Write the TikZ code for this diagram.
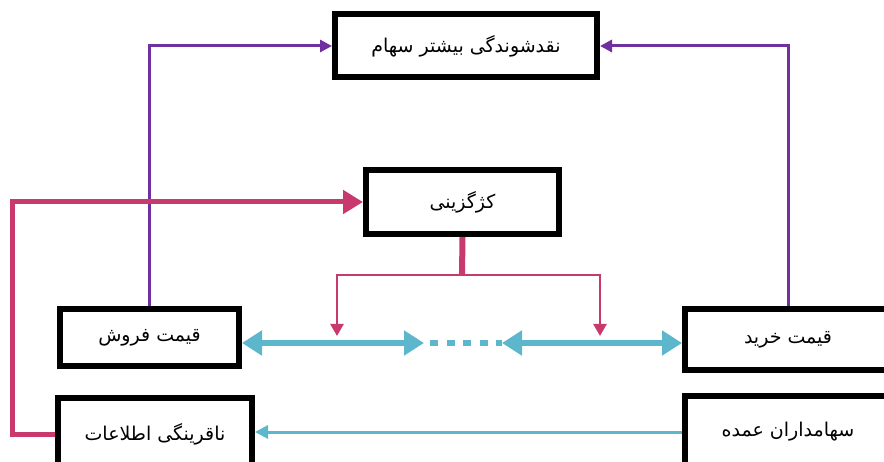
\documentclass[tikz,border=0pt]{standalone}
\usepackage{fontspec}
\newfontfamily\arabicfont[Script=Arabic]{DejaVu Sans}
\TeXXeTstate=1
\usetikzlibrary{arrows.meta}
\definecolor{purp}{RGB}{112,48,160}
\definecolor{rose}{RGB}{200,58,110}
\definecolor{teal2}{RGB}{92,182,204}
\newcommand{\fa}[1]{\beginR #1\endR}
\begin{document}
\begin{tikzpicture}[x=1pt, y=-1pt,
    box/.style={draw=black, line width=6pt, fill=white, inner sep=0pt,
        font=\arabicfont\fontsize{19}{22}\selectfont},
    purpline/.style={purp, line width=3pt, -{Triangle[length=12pt, width=12pt]}},
    roseline/.style={rose, line width=5pt, -{Triangle[length=20pt, width=23pt]}},
    rosedrop/.style={rose, line width=2.5pt, -{Triangle[length=12pt, width=13pt]}},
    tealbig/.style={teal2, line width=6pt, {Triangle[length=20pt, width=24pt]}-{Triangle[length=20pt, width=24pt]}},
    tealthin/.style={teal2, line width=3pt, -{Triangle[length=13pt, width=13pt]}}]
    \useasboundingbox (0,0) rectangle (884,462);
    \clip (0,0) rectangle (884,462);
    % Boxes
    \node[box, minimum width=262pt, minimum height=63pt] (liq) at (466,46) {\fa{نقدشوندگی بیشتر سهام}};
    \node[box, minimum width=193pt, minimum height=64pt] (adv) at (462.5,202) {\fa{کژگزینی}};
    \node[box, minimum width=179pt, minimum height=57pt] (sell) at (149.5,337.5) {\fa{قیمت فروش}};
    \node[box, minimum width=194pt, minimum height=72pt] (info) at (155,434) {\fa{ناقرینگی اطلاعات}};
    \node[box, minimum width=206pt, minimum height=61pt] (buy) at (788,339.5) {\fa{قیمت خرید}};
    \node[box, minimum width=206pt, minimum height=72pt] (major) at (788,432) {\fa{سهامداران عمده}};
    % Helper points
    \coordinate (lp) at (12,202);
    \coordinate (sp) at (462,275);
    \coordinate (la) at (337,336);
    \coordinate (ra) at (600,336);
    \coordinate (d1) at (424,343);
    \coordinate (d2) at (502,343);
    % Prices to liquidity
    \draw[purpline] (sell.north) |- (liq.west);
    \draw[purpline] (buy.north) |- (liq.east);
    % Asymmetry to adverse selection
    \draw[roseline] (info.west) -| (lp) -- (adv.west);
    \draw[rose, line width=6pt] (adv.south) -- (sp);
    \foreach \c in {la,ra} \draw[rosedrop] (sp) -| (\c);
    % Spread
    \draw[tealbig] (sell.east |- d1) -- (d1);
    \draw[tealbig] (d2) -- (buy.west |- d2);
    \draw[teal2, line width=6pt, dash pattern=on 8pt off 8.5pt] (430,343) -- (d2);
    \draw[tealthin] (major.west) -- (major.west -| info.east);
\end{tikzpicture}
\end{document}
